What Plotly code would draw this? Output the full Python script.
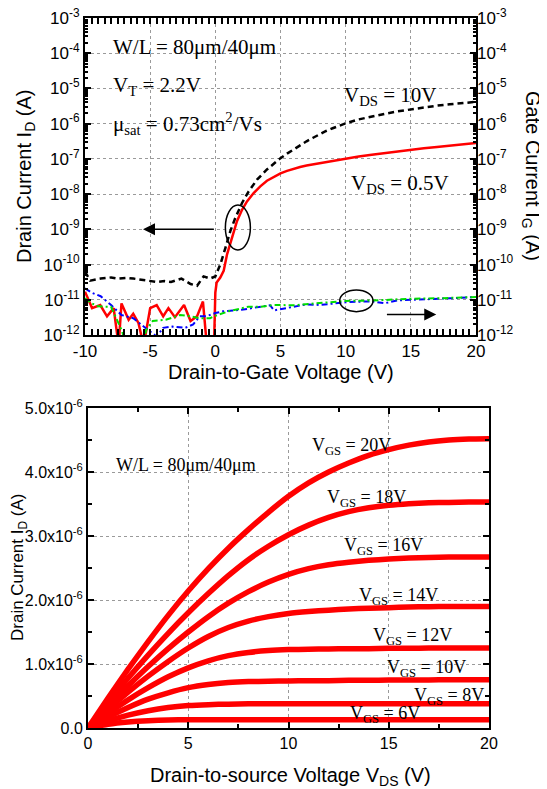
import math
import plotly.graph_objects as go

# The page body adds an 8 px margin, so the figure is sized to fit the 547x789 window
OFF = 8
W, H = 547 - OFF, 789 - OFF

# ---------------- top panel: transfer characteristics ----------------
# drain current, V_DS = 10 V (black dashed)
vg_d10 = [-10, -9.6, -8.8, -8.0, -7.5, -6.8, -6.3, -5.7, -5.2, -4.5, -3.9, -3.4, -2.6, -1.9, -1.4,
          -0.9, -0.4, 0.0, 0.38, 0.77, 1.15, 1.53, 2.05, 2.56, 3.2, 3.96, 4.5, 5.0, 5.5, 6.0, 6.5,
          7.0, 7.5, 8.0, 8.5, 9.0, 9.5, 10, 11, 12, 13, 14, 15, 16, 17, 18, 19, 20]
id_d10 = [6.3e-11, 3.5e-11, 4.0e-11, 4.3e-11, 4.0e-11, 4.2e-11, 4.0e-11, 3.8e-11, 3.5e-11, 3.2e-11,
          3.4e-11, 3.2e-11, 4.0e-11, 2.8e-11, 2.5e-11, 4.6e-11, 4.0e-11, 4.6e-11, 1.0e-10, 2.95e-10,
          8.9e-10, 2.1e-9, 5.6e-9, 1.2e-8, 2.57e-8, 5.0e-8, 7.6e-8, 1.05e-7, 1.41e-7, 1.86e-7,
          2.45e-7, 3.16e-7, 3.98e-7, 5.0e-7, 6.2e-7, 7.4e-7, 8.7e-7, 1.02e-6, 1.32e-6, 1.62e-6,
          1.9e-6, 2.24e-6, 2.57e-6, 2.88e-6, 3.24e-6, 3.55e-6, 3.9e-6, 4.17e-6]

# drain current, V_DS = 0.5 V (red solid)
vg_d05 = [-10, -9.46, -8.83, -8.31, -7.8, -7.42, -7.2, -6.65, -6.3, -5.9, -5.5, -5.0, -4.5, -4.0,
          -3.6, -3.1, -2.4, -1.9, -1.4, -0.95, -0.65, -0.1, 0.0, 0.1, 0.38, 0.64, 0.9, 1.28, 1.66,
          2.05, 2.43, 2.94, 3.45, 3.96, 4.5, 5.0, 5.5, 6.0, 6.5, 7, 8, 9, 10, 11, 12, 13, 14, 15,
          16, 17, 18, 19, 20]
id_d05 = [1.7e-11, 5.8e-12, 7.1e-12, 3.4e-12, 5.8e-12, 5e-13, 7.9e-12, 2.7e-12, 4.0e-12, 2.2e-12,
          5e-13, 5.8e-12, 7.1e-12, 3.4e-12, 5.8e-12, 3.2e-12, 7.1e-12, 2.5e-12, 3.4e-12, 8.9e-12,
          5e-13, 5e-13, 1.6e-11, 3.1e-11, 4.3e-11, 6.6e-11, 1.95e-10, 5.8e-10, 1.7e-9,
          3.6e-9, 6.2e-9, 1.07e-8, 1.66e-8, 2.4e-8, 3.16e-8, 3.9e-8, 4.57e-8, 5.25e-8, 5.9e-8,
          6.5e-8, 7.6e-8, 8.9e-8, 1.02e-7, 1.17e-7, 1.32e-7, 1.48e-7, 1.66e-7, 1.82e-7, 2.0e-7,
          2.19e-7, 2.4e-7, 2.63e-7, 2.82e-7]

# gate currents (blue and green dash-dot)
vg_gb = [-10, -9.5, -8.8, -8.0, -7.2, -6.3, -5.5, -4.5, -4.0, -3.3, -2.3, -1.7, -1.2, -0.7, 0, 0.6,
         2, 3, 4.2, 4.5, 6, 7, 8, 9, 10, 11, 12, 13, 14, 15, 17, 18, 20]
ig_gb = [2.1e-11, 1.6e-11, 1.26e-11, 7.1e-12, 3.7e-12, 3.0e-12, 1.74e-12, 9e-13, 1.6e-12, 1.74e-12,
         1.6e-12, 2.0e-12, 3.4e-12, 3.4e-12, 4.2e-12, 4.7e-12, 5.2e-12, 6.0e-12, 7.0e-12, 5.0e-12,
         6.5e-12, 7.4e-12, 7.1e-12, 7.8e-12, 8.5e-12, 8.8e-12, 9.0e-12, 8.0e-12, 9.6e-12, 1.0e-11,
         1.05e-11, 1.1e-11, 1.2e-11]

vg_gg = [-10, -9.5, -9, -8, -7.2, -6.8, -6, -5.6, -5.3, -4.8, -3.8, -2.7, -1.9, -1.2, -0.4, 0, 1.0,
         2.5, 3.5, 4.5, 6, 8, 10, 12, 15, 17, 20]
ig_gg = [1.1e-11, 8e-12, 6.5e-12, 6.3e-12, 1.4e-12, 5e-13, 5e-13, 5e-13, 1.4e-12, 2.5e-12, 2.7e-12,
         3.7e-12, 3.4e-12, 3.0e-12, 3.0e-12, 3.5e-12, 4.7e-12, 6.3e-12, 6.3e-12, 7.1e-12, 7.0e-12,
         8.0e-12, 9.3e-12, 9.5e-12, 1.07e-11, 1.1e-11, 1.2e-11]

log_tickvals = [1e-12, 1e-11, 1e-10, 1e-9, 1e-8, 1e-7, 1e-6, 1e-5, 1e-4, 1e-3]
log_ticktext = ["10<sup>-12</sup>", "10<sup>-11</sup>", "10<sup>-10</sup>", "10<sup>-9</sup>",
                "10<sup>-8</sup>", "10<sup>-7</sup>", "10<sup>-6</sup>", "10<sup>-5</sup>",
                "10<sup>-4</sup>", "10<sup>-3</sup>"]
top_x_tickvals = [-10, -5, 0, 5, 10, 15, 20]
top_x_ticktext = ["-10", "-5", "0", "5", "10", "15", "20"]

# ---------------- bottom panel: output characteristics ----------------
vds = [0, 1, 2, 3, 4, 5, 6, 7, 8, 9, 10, 11, 12, 13, 14, 15, 16, 17, 18, 19, 20]
id_vgs20 = [0, 0.47, 0.92, 1.35, 1.76, 2.14, 2.49, 2.81, 3.10, 3.37, 3.62, 3.83, 4.00, 4.14, 4.26,
            4.35, 4.42, 4.47, 4.50, 4.515, 4.52]
id_vgs18 = [0, 0.40, 0.78, 1.14, 1.48, 1.80, 2.10, 2.38, 2.63, 2.84, 3.02, 3.17, 3.29, 3.38, 3.44,
            3.48, 3.505, 3.52, 3.525, 3.53, 3.53]
id_vgs16 = [0, 0.34, 0.66, 0.96, 1.24, 1.50, 1.74, 1.95, 2.13, 2.28, 2.40, 2.49, 2.55, 2.59, 2.62,
            2.64, 2.655, 2.665, 2.67, 2.67, 2.67]
id_vgs14 = [0, 0.29, 0.56, 0.81, 1.04, 1.25, 1.43, 1.57, 1.67, 1.74, 1.79, 1.82, 1.84, 1.86, 1.87,
            1.88, 1.89, 1.895, 1.90, 1.90, 1.90]
id_vgs12 = [0, 0.23, 0.44, 0.63, 0.80, 0.94, 1.05, 1.13, 1.18, 1.21, 1.225, 1.23, 1.235, 1.24,
            1.24, 1.245, 1.245, 1.25, 1.25, 1.25, 1.25]
id_vgs10 = [0, 0.17, 0.32, 0.45, 0.55, 0.63, 0.68, 0.71, 0.725, 0.73, 0.735, 0.74, 0.74, 0.745,
            0.745, 0.75, 0.75, 0.75, 0.755, 0.755, 0.755]
id_vgs8 = [0, 0.11, 0.20, 0.27, 0.32, 0.35, 0.365, 0.373, 0.377, 0.38, 0.38, 0.38, 0.38, 0.38,
           0.38, 0.38, 0.38, 0.38, 0.38, 0.38, 0.38]
id_vgs6 = [0, 0.06, 0.095, 0.115, 0.125, 0.13, 0.13, 0.13, 0.13, 0.13, 0.13, 0.13, 0.13, 0.13,
           0.13, 0.13, 0.13, 0.13, 0.13, 0.13, 0.13]
out_curves = [id_vgs20, id_vgs18, id_vgs16, id_vgs14, id_vgs12, id_vgs10, id_vgs8, id_vgs6]
vgs_labels = ["20V", "18V", "16V", "14V", "12V", "10V", "8V", "6V"]
UA = 1e-6  # curve values above are in microamperes

lin_tickvals = [0, 1e-6, 2e-6, 3e-6, 4e-6, 5e-6]
lin_ticktext = ["0.0", "1.0x10<sup>-6</sup>", "2.0x10<sup>-6</sup>", "3.0x10<sup>-6</sup>",
                "4.0x10<sup>-6</sup>", "5.0x10<sup>-6</sup>"]
bot_x_tickvals = [0, 5, 10, 15, 20]

# ---------------- figure ----------------
def px(x):
    """screen x (window pixels) -> paper fraction"""
    return (x - OFF) / W

def py(y):
    """screen y (window pixels) -> paper fraction"""
    return 1 - (y - OFF) / H

SANS = "Liberation Sans, Arial"
SERIF = "Liberation Serif, Times New Roman"
GRID = "#9a9a9a"

fig = go.Figure()

fig.add_trace(go.Scatter(x=vg_gb, y=ig_gb, mode="lines", xaxis="x", yaxis="y2",
                         line=dict(color="#0000ff", width=2, dash="6px,3px,2px,3px")))
fig.add_trace(go.Scatter(x=vg_gg, y=ig_gg, mode="lines", xaxis="x", yaxis="y2",
                         line=dict(color="#00dd00", width=2, dash="6px,3px,2px,3px")))
fig.add_trace(go.Scatter(x=vg_d10, y=id_d10, mode="lines", xaxis="x", yaxis="y",
                         line=dict(color="black", width=2.5, dash="6px,4px")))
fig.add_trace(go.Scatter(x=vg_d05, y=id_d05, mode="lines", xaxis="x", yaxis="y",
                         line=dict(color="#ff0000", width=2.5)))

for curve in out_curves:
    fig.add_trace(go.Scatter(x=vds, y=[v * UA for v in curve], mode="lines", xaxis="x2", yaxis="y3",
                             line=dict(color="#ff0000", width=5.5, shape="spline", smoothing=0.5)))

axis_common = dict(showline=True, linecolor="black", linewidth=2, mirror="allticks",
                   ticks="inside", ticklen=6, tickwidth=1.5, tickcolor="black",
                   showgrid=True, gridcolor=GRID, griddash="dot", gridwidth=1,
                   zeroline=False, automargin=False, ticklabeloverflow="allow",
                   tickfont=dict(family=SANS, size=17, color="black"))

fig.update_layout(
    width=W, height=H, margin=dict(l=0, r=0, t=0, b=0, autoexpand=False),
    paper_bgcolor="white", plot_bgcolor="white", showlegend=False,
    xaxis=dict(domain=[px(85), px(476)], anchor="y", range=[-10, 20],
               tickmode="array", tickvals=top_x_tickvals, ticktext=top_x_ticktext,
               minor=dict(ticks="inside", ticklen=3, dtick=0.5, tickcolor="black", showgrid=False),
               **axis_common),
    yaxis=dict(domain=[py(335), py(18)], anchor="x", type="log", range=[-12, -3],
               tickmode="array", tickvals=log_tickvals, ticktext=log_ticktext,
               minor=dict(ticks="inside", ticklen=3, dtick="D1", tickcolor="black", showgrid=False),
               **axis_common),
    yaxis2=dict(overlaying="y", anchor="x", side="right", type="log", range=[-12, -3],
                tickmode="array", tickvals=log_tickvals, ticktext=log_ticktext,
                ticks="", showline=False, showgrid=False, zeroline=False, automargin=False,
                ticklabeloverflow="allow",
                tickfont=dict(family=SANS, size=17, color="black")),
    xaxis2=dict(domain=[px(88), px(489)], anchor="y3", range=[0, 20],
                tickmode="array", tickvals=bot_x_tickvals,
                minor=dict(ticks="inside", ticklen=4, dtick=2.5, tickcolor="black", showgrid=False),
                **axis_common),
    yaxis3=dict(domain=[py(728), py(408)], anchor="x2", range=[0, 5e-6],
                tickmode="array", tickvals=lin_tickvals, ticktext=lin_ticktext,
                minor=dict(ticks="inside", ticklen=4, dtick=0.5e-6, tickcolor="black", showgrid=False),
                **axis_common),
)
fig.update_yaxes(tickfont=dict(size=16), selector=dict(anchor="x2"))
fig.update_xaxes(tickfont=dict(size=16), selector=dict(anchor="y3"))

ann = []
def txt(t, x, y, size, family=SERIF, xanchor="left", angle=0):
    ann.append(dict(text=t, x=px(x), y=py(y), xref="paper", yref="paper", showarrow=False,
                    xanchor=xanchor, yanchor="middle", textangle=angle,
                    font=dict(family=family, size=size, color="black")))

# top panel texts
txt("W/L = 80μm/40μm", 111, 47, 21)
txt("V<sub>T</sub> = 2.2V", 111, 86, 21)
txt("μ<sub>sat</sub> = 0.73cm<sup>2</sup>/Vs", 111, 124, 21)
txt("V<sub>DS</sub> = 10V", 342, 96, 21)
txt("V<sub>DS</sub> = 0.5V", 349, 184, 21)
txt("Drain-to-Gate Voltage (V)", 281, 372, 20, SANS, "center")
txt("Drain Current I<sub>D</sub> (A)", 25, 176, 20, SANS, "center", -90)
txt("Gate Current I<sub>G</sub> (A)", 532, 176, 20, SANS, "center", 90)

# bottom panel texts
txt("W/L = 80μm/40μm", 114, 465, 18)
label_pos = [(310, 446), (325, 498), (342, 546), (357, 596), (371, 636), (385, 668), (412, 696), (348, 714)]
for lab, (lx, ly) in zip(vgs_labels, label_pos):
    txt("V<sub>GS</sub> = " + lab, lx, ly, 18)
txt("Drain-to-source Voltage V<sub>DS</sub> (V)", 290, 776, 20, SANS, "center")
txt("Drain Current I<sub>D</sub> (A)", 19, 568, 17, SANS, "center", -90)

# arrows (log axis annotations use log10 values)
ann.append(dict(x=-5.55, y=math.log10(1e-9), ax=0, ay=math.log10(1e-9), xref="x", yref="y",
                axref="x", ayref="y", text="", showarrow=True, arrowhead=2, arrowsize=1.6,
                arrowwidth=1.5, arrowcolor="black"))
ann.append(dict(x=16.95, y=math.log10(3.8e-12), ax=13.05, ay=math.log10(3.8e-12), xref="x", yref="y",
                axref="x", ayref="y", text="", showarrow=True, arrowhead=2, arrowsize=1.6,
                arrowwidth=1.5, arrowcolor="black"))
fig.update_layout(annotations=ann)

def ydom(v):
    return (math.log10(v) + 12) / 9

fig.add_shape(type="circle", xref="x", yref="y domain", x0=0.77, x1=2.69,
              y0=ydom(2.6e-10), y1=ydom(4.9e-9), line=dict(color="black", width=1.5))
fig.add_shape(type="circle", xref="x", yref="y domain", x0=9.54, x1=12.1,
              y0=ydom(4.6e-12), y1=ydom(1.9e-11), line=dict(color="black", width=1.5))

fig.write_html("out.html")
